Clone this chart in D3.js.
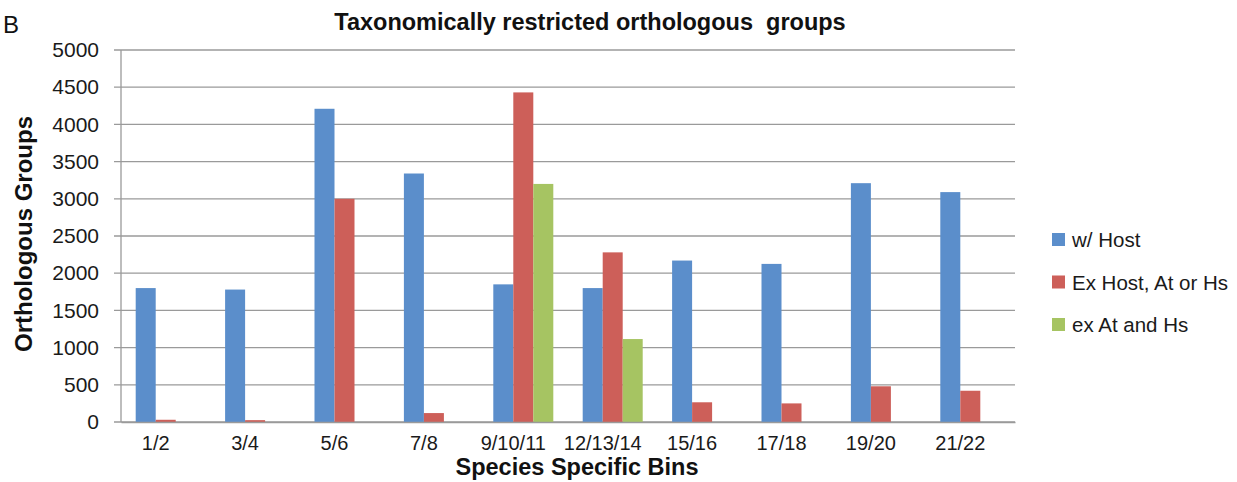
<!DOCTYPE html>
<html>
<head>
<meta charset="utf-8">
<script src="https://cdn.jsdelivr.net/npm/d3@7"></script>
<style>
  body { margin: 0; background: #fff; }
  text { font-family: "Liberation Sans", Arial, sans-serif; }
</style>
</head>
<body>
<svg></svg>
<script>
var svg = d3.select("svg");

var svgWidth = 1237, svgHeight = 482;
var margin = {top: 50, right: 222, bottom: 60, left: 121},
    width = svgWidth - margin.left - margin.right,
    height = svgHeight - margin.top - margin.bottom;

// data
var bins = ["1/2", "3/4", "5/6", "7/8", "9/10/11", "12/13/14", "15/16", "17/18", "19/20", "21/22"];
var seriesNames = ["w/ Host", "Ex Host, At or Hs", "ex At and Hs"];
var withHost = [1800, 1780, 4210, 3340, 1850, 1800, 2170, 2125, 3210, 3090];
var exHost = [30, 25, 3000, 120, 4430, 2280, 265, 250, 480, 420];
var exAtHs = [0, 0, 0, 0, 3200, 1115, 0, 0, 0, 0];
var yTicks = [0, 500, 1000, 1500, 2000, 2500, 3000, 3500, 4000, 4500, 5000];

var colors = ["#5b8ecb", "#cd5f59", "#a6c462"];
var seriesValues = [withHost, exHost, exAtHs];

svg.attr("width", svgWidth).attr("height", svgHeight);

var g = svg.append("g")
    .attr("transform", "translate(" + margin.left + "," + margin.top + ")");

// scales
var x0 = d3.scaleBand().domain(bins).range([0, width]).padding(0);
var x1 = d3.scaleBand().domain(d3.range(3))
    .range([0, x0.bandwidth()])
    .paddingInner(0).paddingOuter(0.735);
var yScale = d3.scaleLinear().domain([0, 5000]).range([height, 0]);

// gridlines
g.append("g")
    .selectAll("line")
    .data(yTicks)
    .enter().append("line")
    .attr("x1", -7)
    .attr("x2", width)
    .attr("y1", function(d){ return yScale(d); })
    .attr("y2", function(d){ return yScale(d); })
    .attr("stroke", "#9a9a9a")
    .attr("stroke-width", 1.3);

// y axis
var yAxis = d3.axisLeft(yScale).tickValues(yTicks).tickFormat(d3.format("d"))
    .tickSize(0).tickPadding(22);
var yg = g.append("g").call(yAxis);
yg.select(".domain").remove();
yg.selectAll("text")
    .style("font-size", "21px")
    .attr("fill", "#1a1a1a");

g.append("line")
    .attr("x1", 0).attr("x2", 0)
    .attr("y1", 0).attr("y2", height)
    .attr("stroke", "#9a9a9a")
    .attr("stroke-width", 1.3);

// bars
var groups = g.selectAll(".bin")
    .data(bins)
    .enter().append("g")
    .attr("class", "bin")
    .attr("transform", function(d){ return "translate(" + x0(d) + ",0)"; });

groups.selectAll("rect")
    .data(function(d, i){
        return seriesValues.map(function(vals, s){ return {s: s, v: vals[i]}; });
    })
    .enter().append("rect")
    .attr("x", function(d){ return x1(d.s); })
    .attr("width", x1.bandwidth())
    .attr("y", function(d){ return yScale(d.v); })
    .attr("height", function(d){ return height - yScale(d.v); })
    .attr("fill", function(d){ return colors[d.s]; });

// x axis
var xAxis = d3.axisBottom(x0).tickSize(0).tickPadding(14);
var xg = g.append("g")
    .attr("transform", "translate(0," + height + ")")
    .call(xAxis);
xg.select(".domain").attr("stroke", "#9a9a9a").attr("stroke-width", 1.3);
xg.selectAll("text")
    .style("font-size", "20px")
    .attr("fill", "#1a1a1a")
    .attr("dx", -10);

// titles
svg.append("text")
    .text("Taxonomically restricted orthologous  groups")
    .attr("x", 590)
    .attr("y", 30)
    .attr("text-anchor", "middle")
    .style("font-size", "23.5px")
    .style("font-weight", "bold")
    .style("white-space", "pre")
    .attr("fill", "#111");

svg.append("text")
    .text("B")
    .attr("x", 3)
    .attr("y", 33)
    .style("font-size", "24px")
    .attr("fill", "#111");

svg.append("text")
    .text("Species Specific Bins")
    .attr("x", 577)
    .attr("y", 475)
    .attr("text-anchor", "middle")
    .style("font-size", "23.5px")
    .style("font-weight", "bold")
    .attr("fill", "#111");

svg.append("text")
    .text("Orthologous Groups")
    .attr("transform", "translate(32,234) rotate(-90)")
    .attr("text-anchor", "middle")
    .style("font-size", "24px")
    .style("font-weight", "bold")
    .attr("fill", "#111");

// legend
var legend = svg.append("g")
    .attr("transform", "translate(1052,240)");

var items = legend.selectAll("g")
    .data(seriesNames)
    .enter().append("g")
    .attr("transform", function(d, i){ return "translate(0," + (i * 42.5) + ")"; });

items.append("rect")
    .attr("x", 0).attr("y", -7)
    .attr("width", 13).attr("height", 13)
    .attr("fill", function(d, i){ return colors[i]; });

items.append("text")
    .text(function(d){ return d; })
    .attr("x", 20)
    .attr("y", 0)
    .attr("dy", "0.35em")
    .style("font-size", "20.5px")
    .attr("fill", "#1a1a1a");
</script>
</body>
</html>
